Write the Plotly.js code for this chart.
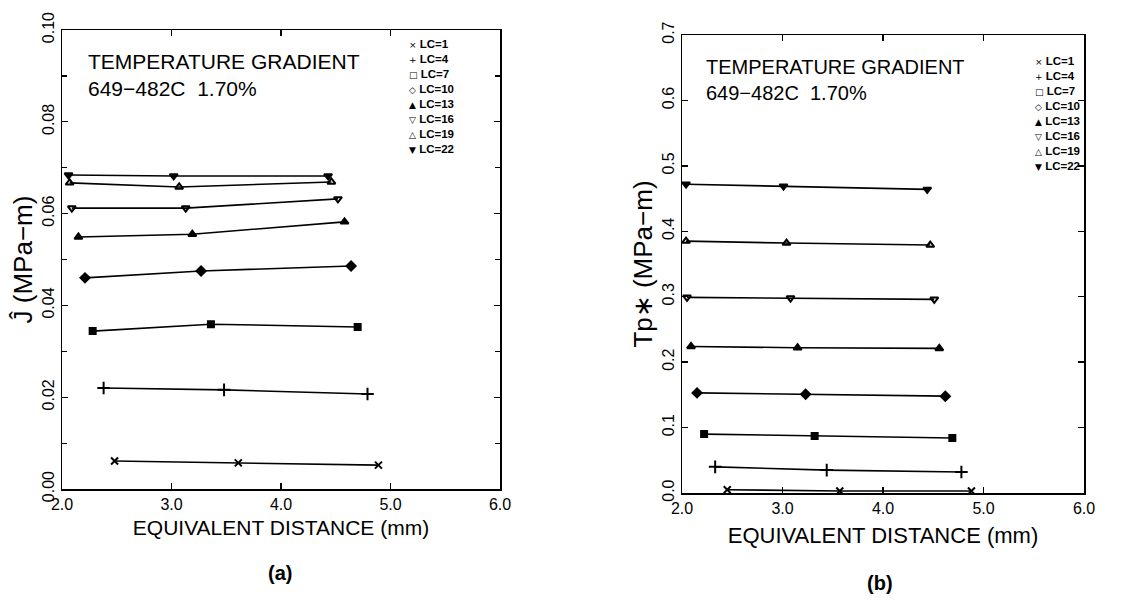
<!DOCTYPE html>
<html>
<head>
<meta charset="utf-8">
<script src="https://cdn.plot.ly/plotly-3.0.1.min.js"></script>
<style>html,body{margin:0;padding:0;background:#fff;}#chart{width:1140px;height:604px;}</style>
</head>
<body>
<div id="chart"></div>
<script>
// Series labels (load cases)
const seriesLabels = ['LC=1','LC=4','LC=7','LC=10','LC=13','LC=16','LC=19','LC=22'];

// Panel (a): equivalent distance (mm) and J^ (MPa-m)
const distA = [
  [2.48, 3.61, 4.89],
  [2.38, 3.48, 4.79],
  [2.28, 3.36, 4.70],
  [2.21, 3.27, 4.64],
  [2.15, 3.19, 4.58],
  [2.09, 3.13, 4.52],
  [2.07, 3.07, 4.46],
  [2.06, 3.02, 4.43]
];
const jHatA = [
  [0.0061, 0.0057, 0.0052],
  [0.0220, 0.0216, 0.0207],
  [0.0344, 0.0359, 0.0353],
  [0.0460, 0.0475, 0.0486],
  [0.0549, 0.0555, 0.0582],
  [0.0612, 0.0612, 0.0632],
  [0.0667, 0.0658, 0.0669],
  [0.0684, 0.0682, 0.0682]
];

// Panel (b): equivalent distance (mm) and Tp* (MPa-m)
const distB = [
  [2.45, 3.57, 4.88],
  [2.33, 3.44, 4.78],
  [2.22, 3.32, 4.69],
  [2.15, 3.23, 4.62],
  [2.09, 3.15, 4.56],
  [2.05, 3.08, 4.51],
  [2.04, 3.04, 4.47],
  [2.04, 3.01, 4.44]
];
const tpB = [
  [0.005, 0.003, 0.003],
  [0.040, 0.035, 0.032],
  [0.090, 0.087, 0.084],
  [0.153, 0.151, 0.148],
  [0.224, 0.222, 0.221],
  [0.299, 0.298, 0.296],
  [0.385, 0.382, 0.379],
  [0.472, 0.469, 0.464]
];

const xTickVals = [2, 3, 4, 5, 6];
const xTickText = ['2.0', '3.0', '4.0', '5.0', '6.0'];
const annoLine1 = 'TEMPERATURE GRADIENT';
const annoLine2 = '649\u2212482C\u00a0\u00a01.70%';

// styles
const symbols = ['x-thin-open','cross-thin-open','square','diamond','triangle-up','triangle-down-open','triangle-up-open','triangle-down'];
const glyphs = ['\u00d7','+','\u25a1','\u25c7','\u25b2','\u25bd','\u25b3','\u25bc'];
const sizes = [7, 9, 6, 7, 7, 7, 7, 7];

const W = 1140, H = 604;
const px = v => v / W;
const py = v => 1 - v / H;

const traces = [];
function addSeries(xs, ys, xa, ya) {
  for (let i = 0; i < seriesLabels.length; i++) {
    traces.push({
      type: 'scatter', mode: 'lines+markers',
      x: xs[i], y: ys[i], xaxis: xa, yaxis: ya,
      name: seriesLabels[i], showlegend: false,
      line: {color: '#000', width: 1.6},
      marker: {symbol: symbols[i], size: sizes[i], color: '#000',
               line: {color: '#000', width: 2}}
    });
  }
}
addSeries(distA, jHatA, 'x', 'y');
addSeries(distB, tpB, 'x2', 'y2');

const font = 'Liberation Sans, Arial, sans-serif';
const axisBase = {
  showline: true, linecolor: '#000', linewidth: 1.5, mirror: 'ticks',
  ticks: 'inside', ticklen: 6, tickwidth: 1.3, tickcolor: '#000',
  showgrid: false, zeroline: false,
  tickfont: {family: font, size: 16, color: '#000'}
};

const annotations = [];
function addText(x, y, lines, size) {
  annotations.push({xref: 'paper', yref: 'paper', x: px(x), y: py(y),
    xanchor: 'left', yanchor: 'middle', showarrow: false, align: 'left',
    text: lines, font: {family: font, size: size, color: '#000'}});
}
addText(86, 75, annoLine1 + '<br>' + annoLine2, 21);
addText(704, 80, annoLine1 + '<br>' + annoLine2, 20);

function addLegend(x, yMid) {
  const rows = seriesLabels.map((lab, i) =>
    '<span style="font-family:DejaVu Sans;font-size:9px">' + glyphs[i] + '</span> <b>' + lab + '</b>');
  annotations.push({xref: 'paper', yref: 'paper', x: px(x), y: py(yMid),
    xanchor: 'left', yanchor: 'middle', showarrow: false, align: 'left',
    text: rows.join('<br>'),
    font: {family: font, size: 11.5, color: '#000'}});
}
addLegend(407, 97);
addLegend(1033, 113);

annotations.push({xref: 'paper', yref: 'paper', x: px(280), y: py(573), xanchor: 'center', yanchor: 'middle',
  showarrow: false, text: '<b>(a)</b>', font: {family: font, size: 20, color: '#000'}});
annotations.push({xref: 'paper', yref: 'paper', x: px(880), y: py(583), xanchor: 'center', yanchor: 'middle',
  showarrow: false, text: '<b>(b)</b>', font: {family: font, size: 20, color: '#000'}});

const layout = {
  width: W, height: H, margin: {l: 0, r: 0, t: 0, b: 0},
  paper_bgcolor: '#fff', plot_bgcolor: '#fff', showlegend: false,
  xaxis: Object.assign({}, axisBase, {
    domain: [px(62), px(500)], range: [2, 6], tickvals: xTickVals, ticktext: xTickText,
    anchor: 'y',
    title: {text: 'EQUIVALENT DISTANCE (mm)', font: {family: font, size: 21, color: '#000'}, standoff: 8}
  }),
  yaxis: Object.assign({}, axisBase, {
    domain: [py(489), py(30)], range: [0, 0.10], dtick: 0.02, tickformat: '.2f', tickangle: -90,
    anchor: 'x',
    minor: {dtick: 0.01, ticks: 'inside', ticklen: 5, tickcolor: '#000', tickwidth: 1.2},
    title: {text: '\u0134 (MPa\u2212m)', font: {family: font, size: 26, color: '#000'}, standoff: 0}
  }),
  xaxis2: Object.assign({}, axisBase, {
    domain: [px(682), px(1084)], range: [2, 6], tickvals: xTickVals, ticktext: xTickText,
    anchor: 'y2',
    title: {text: 'EQUIVALENT DISTANCE (mm)', font: {family: font, size: 22, color: '#000'}, standoff: 12}
  }),
  yaxis2: Object.assign({}, axisBase, {
    domain: [py(493), py(35)], range: [0, 0.7], dtick: 0.1, tickformat: '.1f', tickangle: -90,
    anchor: 'x2',
    title: {text: 'Tp\u2217 (MPa\u2212m)', font: {family: font, size: 26, color: '#000'}, standoff: 0}
  }),
  annotations: annotations
};

Plotly.newPlot('chart', traces, layout, {displayModeBar: false, staticPlot: true});
</script>
</body>
</html>
